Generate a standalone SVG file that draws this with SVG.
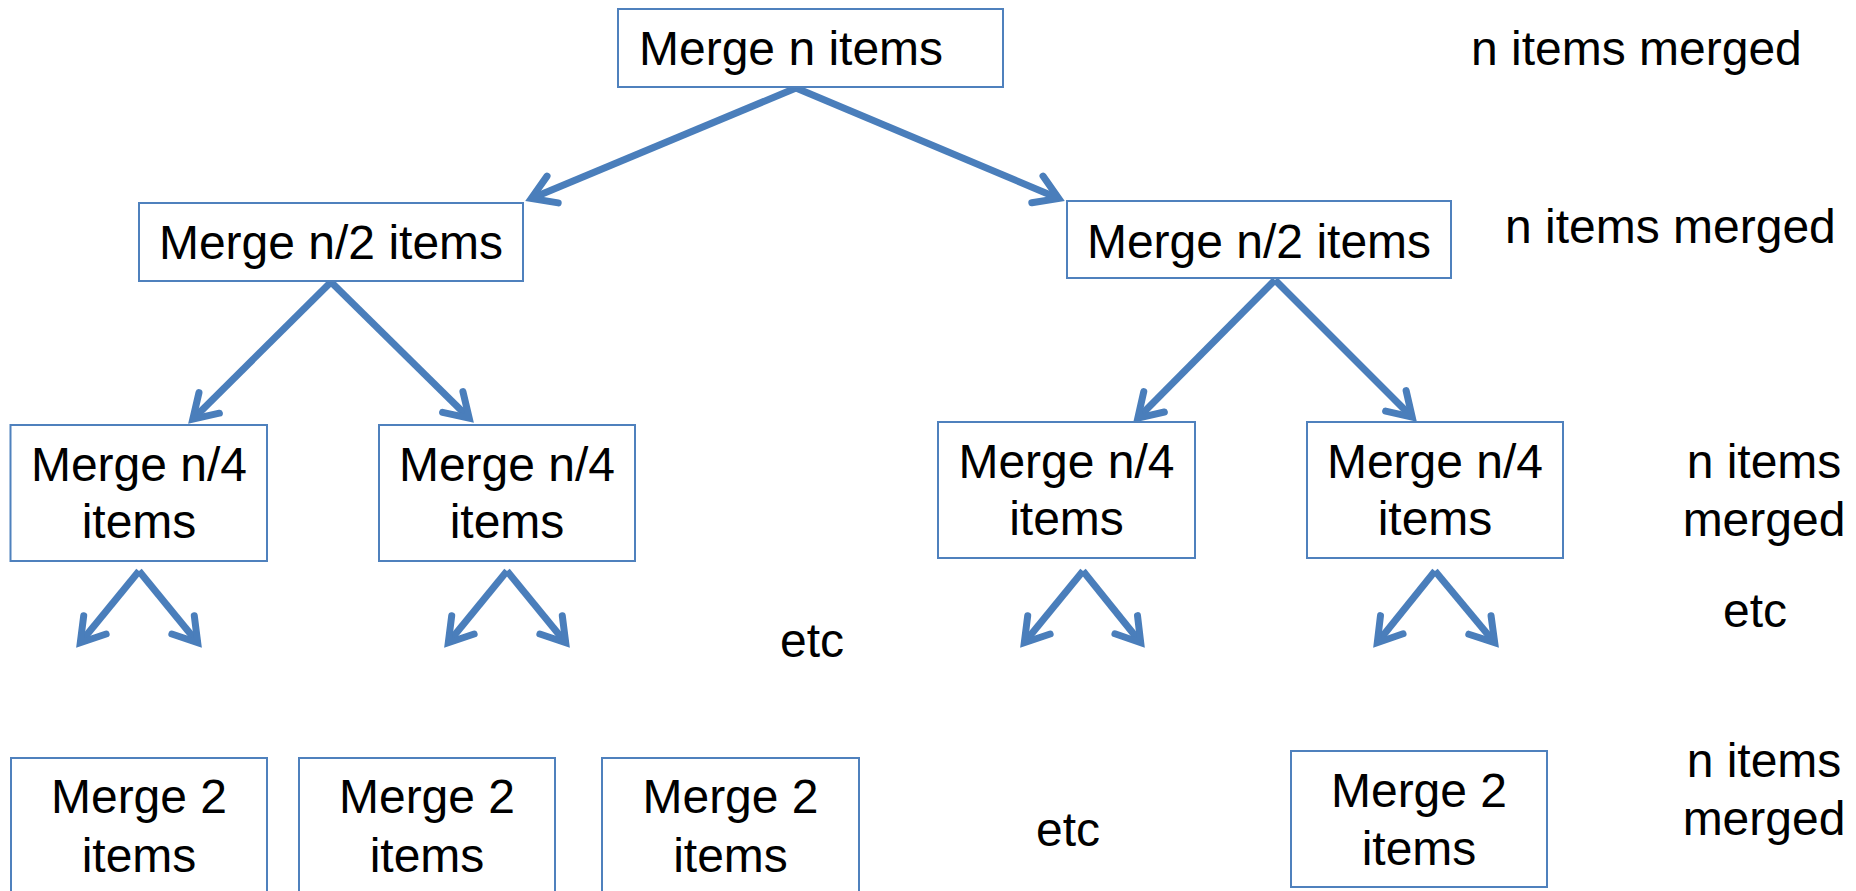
<svg xmlns="http://www.w3.org/2000/svg" width="1856" height="891" viewBox="0 0 1856 891">
<style>
.box{fill:#fff;stroke:#4F81BD;stroke-width:2}
.t{font-family:"Liberation Sans",Arial,sans-serif;font-size:48px;fill:#000}
.c{text-anchor:middle}
.arr{fill:none;stroke:#4A7EBB;stroke-width:7;stroke-linecap:butt;marker-end:url(#ah)}
</style>
<defs>
<marker id="ah" markerUnits="strokeWidth" orient="auto" refX="0" refY="0" markerWidth="10" markerHeight="10" viewBox="-5 -5 10 10" overflow="visible">
<path d="M-3.3,-2.07 L0,0 L-3.3,2.07" fill="none" stroke="#4A7EBB" stroke-width="1" stroke-linecap="round" stroke-linejoin="miter"/>
</marker>
</defs>
<rect width="1856" height="891" fill="#fff"/>
<g id="connectors">
<path class="arr" d="M796,88 L531.3,198.4"/>
<path class="arr" d="M796,88 L1058.7,198.4"/>
<path class="arr" d="M331,282 L192.8,419.2"/>
<path class="arr" d="M331,282 L469.2,418.2"/>
<path class="arr" d="M1275,280 L1137.8,418.2"/>
<path class="arr" d="M1275,280 L1412.2,417.2"/>
<path class="arr" d="M139,571 L80.3,642.7"/>
<path class="arr" d="M139,571 L197.7,642.7"/>
<path class="arr" d="M507,571 L448.3,642.7"/>
<path class="arr" d="M507,571 L565.7,642.7"/>
<path class="arr" d="M1083,571 L1024.3,642.7"/>
<path class="arr" d="M1083,571 L1140.7,642.7"/>
<path class="arr" d="M1435,571 L1377.3,642.7"/>
<path class="arr" d="M1435,571 L1494.7,642.7"/>
</g>
<g id="n-root"><rect class="box" x="618" y="9" width="385" height="78"/><text class="t" x="639" y="65">Merge n items</text></g>
<g id="n-half-left"><rect class="box" x="139" y="203" width="384" height="78"/><text class="t c" x="331" y="259">Merge n/2 items</text></g>
<g id="n-half-right"><rect class="box" x="1067" y="201" width="384" height="77"/><text class="t c" x="1259" y="258">Merge n/2 items</text></g>
<g id="n-q1"><rect class="box" x="10.5" y="425" width="256.5" height="136"/><text class="t c" x="139" y="481">Merge n/4</text><text class="t c" x="139" y="538">items</text></g>
<g id="n-q2"><rect class="box" x="379" y="425" width="256" height="136"/><text class="t c" x="507" y="481">Merge n/4</text><text class="t c" x="507" y="538">items</text></g>
<g id="n-q3"><rect class="box" x="938" y="422" width="257" height="136"/><text class="t c" x="1066.5" y="478">Merge n/4</text><text class="t c" x="1066.5" y="535">items</text></g>
<g id="n-q4"><rect class="box" x="1307" y="422" width="256" height="136"/><text class="t c" x="1435" y="478">Merge n/4</text><text class="t c" x="1435" y="535">items</text></g>
<g id="n-m1"><rect class="box" x="11" y="758" width="256" height="150"/><text class="t c" x="139" y="813">Merge 2</text><text class="t c" x="139" y="872">items</text></g>
<g id="n-m2"><rect class="box" x="299" y="758" width="256" height="150"/><text class="t c" x="427" y="813">Merge 2</text><text class="t c" x="427" y="872">items</text></g>
<g id="n-m3"><rect class="box" x="602" y="758" width="257" height="150"/><text class="t c" x="730.5" y="813">Merge 2</text><text class="t c" x="730.5" y="872">items</text></g>
<g id="n-m4"><rect class="box" x="1291" y="751" width="256" height="136"/><text class="t c" x="1419" y="807">Merge 2</text><text class="t c" x="1419" y="865">items</text></g>
<g id="labels">
<text class="t" x="1471" y="65">n items merged</text>
<text class="t" x="1505" y="243">n items merged</text>
<text class="t c" x="1764" y="478">n items</text>
<text class="t c" x="1764" y="536">merged</text>
<text class="t" x="1723" y="627">etc</text>
<text class="t" x="780" y="657">etc</text>
<text class="t" x="1036" y="846">etc</text>
<text class="t c" x="1764" y="777">n items</text>
<text class="t c" x="1764" y="835">merged</text>
</g>
</svg>
